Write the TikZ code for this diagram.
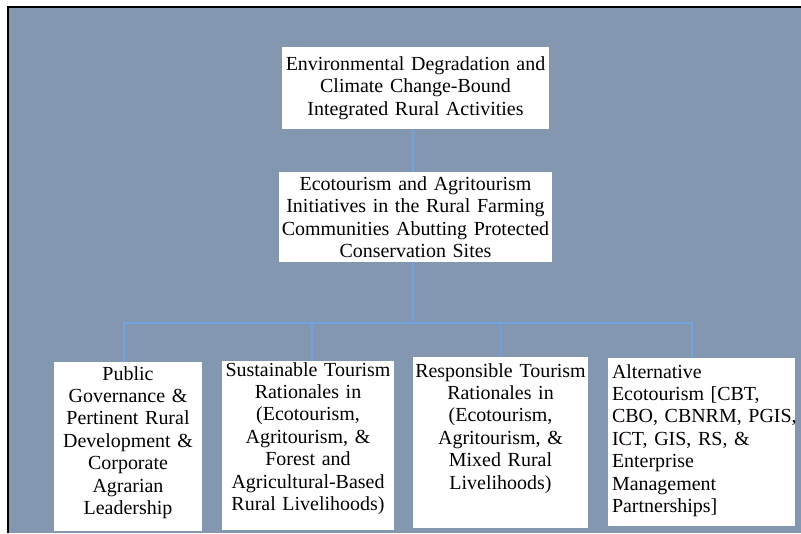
\documentclass[tikz,border=0pt]{standalone}
\usepackage{fontspec}
\setmainfont{Liberation Serif}
\usetikzlibrary{positioning,calc}
\definecolor{slate}{RGB}{132,151,176}
\definecolor{linkblue}{RGB}{114,163,222}
\tikzset{
  box/.style={fill=white, align=center, inner xsep=0.06cm, inner ysep=0pt,
              font=\fontsize{14.2pt}{15.9pt}\selectfont},
  leaf/.style={box, anchor=north, inner xsep=0pt},
  link/.style={linkblue, line width=1.4pt},
}

\begin{document}
\begin{tikzpicture}
    \useasboundingbox (0,0) rectangle (20.025,-13.325);
    \fill[slate] (0.2,-0.175) rectangle (20.025,-13.325);
    \draw[line width=1pt] (0.2,-13.325) -- (0.2,-0.175) -- (20.025,-0.175);

    \node[box, minimum width=6.675cm, minimum height=2.05cm, text width=6.55cm] (top) at (10.3875,-2.2)
         {Environmental Degradation and\\ Climate Change-Bound\\ Integrated Rural Activities};
    \node[box, minimum width=6.825cm, minimum height=2.25cm, text width=6.7cm] (mid) at (10.3875,-5.425)
         {Ecotourism and Agritourism\\ Initiatives in the Rural Farming\\ Communities Abutting Protected\\ Conservation Sites};

    \node[leaf, text width=3.7cm, text height=0.45cm, text depth=3.775cm] (gov) at (3.2,-9.05)
         {Public\\ Governance \&\\ Pertinent Rural\\ Development \&\\ Corporate\\ Agrarian\\ Leadership};
    \node[leaf, text width=4.3cm, text height=0.375cm, text depth=3.85cm] (sust) at (7.7,-9.025)
         {Sustainable Tourism\\ Rationales in\\ (Ecotourism,\\ Agritourism, \&\\ Forest and\\ Agricultural-Based\\ Rural Livelihoods)};
    \node[leaf, text width=4.375cm, text height=0.5cm, text depth=3.775cm] (resp) at (12.5125,-8.925)
         {Responsible Tourism\\ Rationales in\\ (Ecotourism,\\ Agritourism, \&\\ Mixed Rural\\ Livelihoods)};
    \node[leaf, align=left, inner xsep=0.1cm, text width=4.475cm, text height=0.5cm, text depth=3.7cm] (alt) at (17.5375,-8.95)
         {Alternative\\ Ecotourism [CBT,\\ \mbox{CBO, CBNRM, PGIS,}\\ ICT, GIS, RS, \&\\ Enterprise\\ Management\\ Partnerships]};

    \coordinate (bus) at (10.325,-8.075);
    \draw[link] (top.south -| bus) -- (mid.north -| bus);
    \draw[link] (mid.south -| bus) -- (bus);
    \foreach \n/\dx in {gov/-0.11, sust/0.1, resp/0, alt/-0.24}
      \draw[link] (bus) -| ([xshift=\dx cm]\n.north);
\end{tikzpicture}
\end{document}
